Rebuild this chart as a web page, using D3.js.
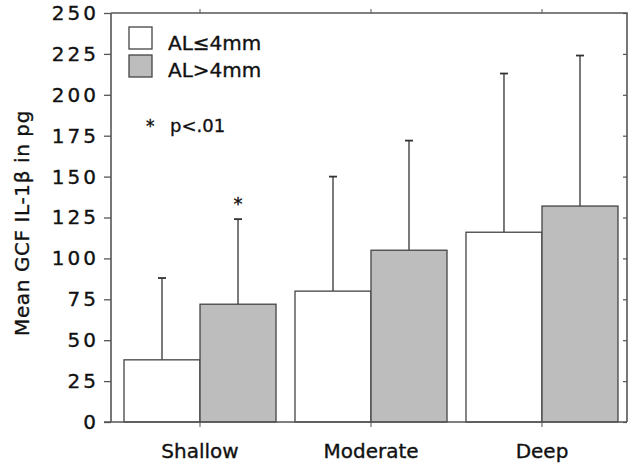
<!DOCTYPE html>
<html><head><meta charset="utf-8">
<script src="https://cdn.jsdelivr.net/npm/d3@7"></script>
<style>
body{margin:0;background:#fff;}
svg text{font-family:"DejaVu Sans",sans-serif;fill:#111;stroke:#111;stroke-width:0.35px;}
</style></head>
<body><svg id="c" width="629" height="465"></svg>
<script>
const categories = ["Shallow", "Moderate", "Deep"];
const seriesNames = ["AL≤4mm", "AL>4mm"];
const meansLow = [38, 80, 116];
const meansHigh = [72, 105, 132];
const errTopLow = [88, 150, 213];
const errTopHigh = [124, 172, 224];
const yTicks = [0, 25, 50, 75, 100, 125, 150, 175, 200, 225, 250];
const significant = [true, false, false]; // for AL>4mm
const yLabel = "Mean GCF IL-1β in pg";

const svg = d3.select("#c");
const L = 111, R = 627, T = 13, B = 422;
const y = d3.scaleLinear().domain([0, 250]).range([B, T]);
const x = d3.scaleBand().domain(categories).range([114.5, 627.5]).paddingInner(0.111).paddingOuter(0.0556);
const xs = d3.scaleBand().domain([0, 1]).range([0, x.bandwidth()]);
const fills = ["#ffffff", "#bdbdbd"];
const axisCol = "#555";

const data = [];
categories.forEach((c, i) => {
  data.push({c, s: 0, v: meansLow[i], e: errTopLow[i], sig: false});
  data.push({c, s: 1, v: meansHigh[i], e: errTopHigh[i], sig: significant[i]});
});

// error bars
const eg = svg.append("g").attr("stroke", "#333").attr("stroke-width", 1.3);
data.forEach(d => {
  const cx = x(d.c) + xs(d.s) + xs.bandwidth() / 2;
  eg.append("line").attr("x1", cx).attr("x2", cx).attr("y1", y(d.v)).attr("y2", y(d.e));
  eg.append("line").attr("x1", cx - 4).attr("x2", cx + 4).attr("y1", y(d.e)).attr("y2", y(d.e)).attr("stroke-width", 1.8);
  if (d.sig) {
    svg.append("text").attr("x", cx).attr("y", y(d.e) - 9).attr("text-anchor", "middle")
      .attr("font-size", 18).text("*");
  }
});

// bars
svg.append("g").selectAll("rect").data(data).join("rect")
  .attr("x", d => x(d.c) + xs(d.s))
  .attr("y", d => y(d.v))
  .attr("width", xs.bandwidth())
  .attr("height", d => y(0) - y(d.v))
  .attr("fill", d => fills[d.s])
  .attr("stroke", "#444").attr("stroke-width", 1.3);

// left axis
const ya = svg.append("g").attr("transform", `translate(${L},0)`)
  .call(d3.axisLeft(y).tickValues(yTicks).tickSize(7).tickPadding(8));
ya.select(".domain").remove();
ya.selectAll("line").attr("stroke", axisCol).attr("stroke-width", 1.3);
ya.selectAll("text").attr("font-size", 20).attr("letter-spacing", 3).attr("dx", 3)
  .attr("font-family", "DejaVu Sans").attr("fill", "#111");

// right axis (inner ticks)
const yr = svg.append("g").attr("transform", `translate(${R},0)`)
  .call(d3.axisLeft(y).tickValues(yTicks).tickSize(4).tickFormat(""));
yr.select(".domain").remove();
yr.selectAll("line").attr("stroke", axisCol).attr("stroke-width", 1.2);

// bottom axis ticks
const xa = svg.append("g").attr("transform", `translate(0,${B})`)
  .call(d3.axisBottom(x).tickSize(5).tickPadding(17));
xa.select(".domain").remove();
xa.selectAll("line").attr("stroke", axisCol).attr("stroke-width", 1);
xa.selectAll("text").attr("font-size", 20).attr("font-family", "DejaVu Sans").attr("fill", "#111");

// top axis ticks
const xt = svg.append("g").attr("transform", `translate(0,${T})`)
  .call(d3.axisTop(x).tickSize(4).tickFormat(""));
xt.select(".domain").remove();
xt.selectAll("line").attr("stroke", axisCol).attr("stroke-width", 1);

// frame
const fr = svg.append("g").attr("stroke", axisCol).attr("stroke-width", 1.6).attr("fill", "none");
fr.append("path").attr("d", `M${L},${T}H${R}V${B}`);
fr.append("path").attr("d", `M${L},${T}V${B}`);
fr.append("path").attr("d", `M${L - 7},${B}H${R}`);

// legend
const lg = svg.append("g");
seriesNames.forEach((n, i) => {
  lg.append("rect").attr("x", 129).attr("y", 27 + i * 28).attr("width", 23).attr("height", 22)
    .attr("fill", fills[i]).attr("stroke", "#444").attr("stroke-width", 1.3);
  lg.append("text").attr("x", 168).attr("y", 50 + i * 27).attr("font-size", 20).text(n);
});
lg.append("text").attr("x", 146).attr("y", 132).attr("font-size", 17).text("*");
lg.append("text").attr("x", 170).attr("y", 132).attr("font-size", 18).text("p<.01");

// y label
svg.append("text").attr("transform", "translate(29,223) rotate(-90)")
  .attr("text-anchor", "middle").attr("font-size", 20).attr("letter-spacing", 0.6).text(yLabel);
</script></body></html>
